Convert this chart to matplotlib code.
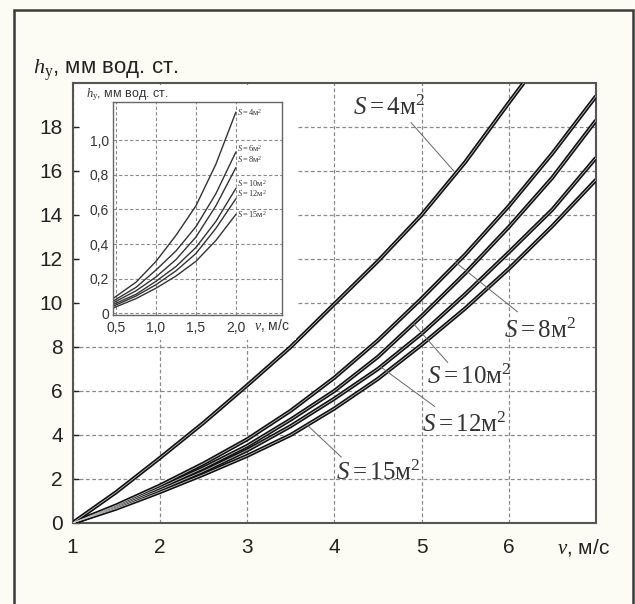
import numpy as np
import matplotlib
matplotlib.use("Agg")
import matplotlib.pyplot as plt
from matplotlib.patches import Rectangle

plt.rcParams['mathtext.fontset'] = 'custom'
plt.rcParams['mathtext.rm'] = 'Liberation Serif'
plt.rcParams['mathtext.it'] = 'Liberation Serif:italic'
plt.rcParams['font.family'] = ['Liberation Sans Narrow', 'Liberation Sans', 'DejaVu Sans']

# ---------------- main chart data ----------------
v_main = [1, 1.5, 2, 2.5, 3, 3.5, 4, 4.5, 5, 5.5, 6, 6.5, 7]
v_s4 = [1, 1.5, 2, 2.5, 3, 3.5, 4, 4.5, 5, 5.5, 6, 6.17]
h_s4 = [0, 1.4, 2.95, 4.55, 6.25, 8.0, 9.95, 11.9, 14.0, 16.4, 19.1, 20.0]
h_s8 = [0, 0.8, 1.7, 2.7, 3.8, 5.1, 6.6, 8.3, 10.2, 12.2, 14.4, 16.8, 19.4]
h_s10 = [0, 0.75, 1.6, 2.5, 3.5, 4.7, 6.0, 7.55, 9.4, 11.35, 13.45, 15.7, 18.3]
h_s12 = [0, 0.7, 1.5, 2.35, 3.3, 4.4, 5.65, 7.0, 8.6, 10.4, 12.3, 14.25, 16.6]
h_s15 = [0, 0.65, 1.4, 2.2, 3.05, 4.0, 5.2, 6.55, 8.1, 9.75, 11.55, 13.5, 15.6]

main_labels = [r"$S = 4\mathrm{м}^2$", r"$S = 8\mathrm{м}^2$", r"$S = 10\mathrm{м}^2$",
               r"$S = 12\mathrm{м}^2$", r"$S = 15\mathrm{м}^2$"]
main_xticks = [1, 2, 3, 4, 5, 6]
main_xticklabels = ["1", "2", "3", "4", "5", "6"]
main_yticks = [0, 2, 4, 6, 8, 10, 12, 14, 16, 18]
main_yticklabels = ["0", "2", "4", "6", "8", "10", "12", "14", "16", "18"]

# label anchor (text left/center) and leader-line endpoints
label_text_pos = [(4.22, 18.85), (5.95, 8.75), (5.06, 6.65), (5.0, 4.45), (4.02, 2.3)]
leader_start = [(4.88, 18.2), (6.1, 9.6), (5.3, 7.3), (5.15, 5.3), (4.08, 3.0)]
leader_end = [(5.37, 16.0), (5.39, 11.85), (4.91, 9.05), (4.53, 7.1), (3.69, 4.45)]

# ---------------- inset data ----------------
v_in = [0.46, 0.75, 1.0, 1.25, 1.5, 1.75, 2.0]
hi_s4 = [0.085, 0.18, 0.30, 0.45, 0.62, 0.86, 1.16]
hi_s6 = [0.07, 0.15, 0.25, 0.36, 0.50, 0.69, 0.93]
hi_s8 = [0.06, 0.13, 0.21, 0.31, 0.44, 0.62, 0.84]
hi_s10 = [0.05, 0.11, 0.185, 0.27, 0.38, 0.53, 0.72]
hi_s12 = [0.04, 0.10, 0.165, 0.245, 0.345, 0.49, 0.66]
hi_s15 = [0.03, 0.085, 0.145, 0.215, 0.30, 0.42, 0.57]
inset_labels = [r"$S = 4\mathrm{м}^2$", r"$S = 6\mathrm{м}^2$", r"$S = 8\mathrm{м}^2$",
                r"$S = 10\mathrm{м}^2$", r"$S = 12\mathrm{м}^2$", r"$S = 15\mathrm{м}^2$"]
inset_label_y = [1.16, 0.95, 0.89, 0.75, 0.69, 0.57]
inset_xticks = [0.5, 1.0, 1.5, 2.0]
inset_xticklabels = ["0,5", "1,0", "1,5", "2,0"]
inset_yticks = [0, 0.2, 0.4, 0.6, 0.8, 1.0]
inset_yticklabels = ["0", "0,2", "0,4", "0,6", "0,8", "1,0"]

W, H = 635, 604
fig = plt.figure(figsize=(W / 100, H / 100), dpi=100)
fig.patch.set_facecolor('#fcfcf5')

def fx(px):
    return px / W

def fy(py):
    return 1 - py / H

# outer frame
fig.add_artist(Rectangle((fx(14), -0.02), fx(633) - fx(14), fy(10) + 0.02,
                         transform=fig.transFigure, fill=False, lw=1.8, ec='#3a3a3a'))

ax = fig.add_axes([fx(72.5), fy(523), fx(596) - fx(72.5), fy(83) - fy(523)])
ax.set_facecolor('white')
ax.set_xlim(1, 7)
ax.set_ylim(0, 20)
ax.set_xticks(main_xticks)
ax.set_xticklabels(main_xticklabels)
ax.set_yticks(main_yticks)
ax.set_yticklabels(main_yticklabels)
ax.tick_params(axis='x', length=0, pad=11, labelsize=15, colors='#222')
ax.tick_params(axis='y', direction='in', length=4, width=1, pad=7, labelsize=15, colors='#222')
ax.set_axisbelow(True)
ax.grid(True, ls=(0, (3, 2)), color='#8a8a8a', lw=0.9)
for s in ax.spines.values():
    s.set_color('#555')
    s.set_linewidth(1.5)

main_series = [(v_s4, h_s4), (v_main, h_s8), (v_main, h_s10), (v_main, h_s12), (v_main, h_s15)]
for vv, hh in main_series:
    ax.plot(vv, hh, color='#111', lw=2.9, solid_capstyle='butt', solid_joinstyle='round', zorder=3)
    ax.plot(vv, hh, color='#c8c8c8', lw=0.55, solid_joinstyle='round', zorder=4)

for lab, tp, ls, le in zip(main_labels, label_text_pos, leader_start, leader_end):
    ax.text(tp[0], tp[1], lab, fontsize=18, ha='left', va='center', color='#333', zorder=5)
    ax.plot([ls[0], le[0]], [ls[1], le[1]], color='#666', lw=0.7, zorder=5)

# white panel behind inset
fig.add_artist(Rectangle((fx(80), fy(340)), fx(296) - fx(80), fy(85) - fy(340),
                         transform=fig.transFigure, fc='white', ec='none', zorder=1))

axin = fig.add_axes([fx(113), fy(315), fx(282) - fx(113), fy(102) - fy(315)])
axin.set_zorder(2)
axin.set_facecolor('white')
axin.set_xlim(0.46, 2.58)
axin.set_ylim(-0.01, 1.22)
axin.set_xticks(inset_xticks)
axin.set_xticklabels(inset_xticklabels)
axin.set_yticks(inset_yticks)
axin.set_yticklabels(inset_yticklabels)
axin.tick_params(length=0, labelsize=10, colors='#333')
axin.tick_params(axis='y', pad=3)
axin.tick_params(axis='x', pad=4)
axin.set_axisbelow(True)
axin.grid(True, ls=(0, (3, 2)), color='#8a8a8a', lw=0.8)
for s in axin.spines.values():
    s.set_color('#666')
    s.set_linewidth(1.0)

for hh in [hi_s4, hi_s6, hi_s8, hi_s10, hi_s12, hi_s15]:
    axin.plot(v_in, hh, color='#333', lw=1.0)
for lab, yy in zip(inset_labels, inset_label_y):
    axin.text(2.02, yy, lab, fontsize=6, ha='left', va='center', color='#333')

# axis titles
fig.text(fx(33), fy(70), r"$h_{\mathrm{у}}$, мм вод. ст.", fontsize=16, ha='left', va='center', color='#222')
fig.text(fx(583), fy(548), r"$v$, м/с", fontsize=15, ha='center', va='center', color='#222')
fig.text(fx(86), fy(95), r"$h_{\mathrm{у}}$, мм вод. ст.", fontsize=9, ha='left', va='center', color='#333')
fig.text(fx(272), fy(326), r"$v$, м/с", fontsize=10, ha='center', va='center', color='#333')

fig.savefig("out.png", dpi=100, facecolor=fig.get_facecolor())
